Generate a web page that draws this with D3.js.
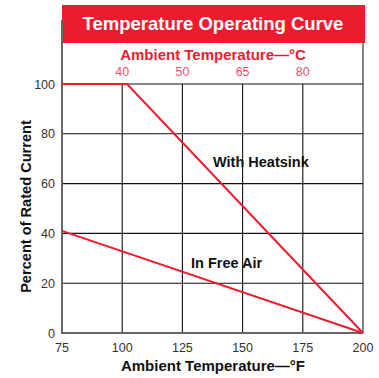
<!DOCTYPE html>
<html><head><meta charset="utf-8">
<script src="https://cdn.jsdelivr.net/npm/d3@7"></script>
<style>body{margin:0;background:#fff}text{font-family:"Liberation Sans",Arial,sans-serif}</style>
</head><body><svg id="c" width="379" height="378"></svg>
<script>
const xTicksF = [75, 100, 125, 150, 175, 200];
const xTicksC = [{f:100, c:"40"}, {f:125, c:"50"}, {f:150, c:"65"}, {f:175, c:"80"}];
const yTicks = [0, 20, 40, 60, 80, 100];
const heatsinkF = [75, 102, 200];
const heatsinkPct = [100, 100, 0];
const freeAirF = [75, 200];
const freeAirPct = [41, 0];

const svg = d3.select("#c");
const L = 62, R = 363, T = 84, B = 333;
const x = d3.scaleLinear().domain([75, 200]).range([L, R]);
const y = d3.scaleLinear().domain([0, 100]).range([B, T]);
const red = "#ec1c2e";

// title box
svg.append("rect").attr("x", 62).attr("y", 5).attr("width", 303).attr("height", 38).attr("fill", red);
svg.append("text").attr("x", 213).attr("y", 30).attr("text-anchor", "middle")
  .attr("fill", "#fff").attr("font-weight", "bold").attr("font-size", 18.5).text("Temperature Operating Curve");

// gridlines
svg.append("g").selectAll("line").data(xTicksF.slice(1, -1)).join("line")
  .attr("x1", d => x(d)).attr("x2", d => x(d)).attr("y1", T).attr("y2", B)
  .attr("stroke", "#111").attr("stroke-width", 1.1);
svg.append("g").selectAll("line").data(yTicks.slice(1)).join("line")
  .attr("x1", L).attr("x2", R).attr("y1", d => y(d)).attr("y2", d => y(d))
  .attr("stroke", "#111").attr("stroke-width", 1.1);
// right border
svg.append("line").attr("x1", R).attr("x2", R).attr("y1", 43).attr("y2", B).attr("stroke", "#333").attr("stroke-width", 1.2);
// left axis & bottom axis
svg.append("line").attr("x1", L).attr("x2", L).attr("y1", 20).attr("y2", B + 1).attr("stroke", "#666").attr("stroke-width", 2);
svg.append("line").attr("x1", L - 1).attr("x2", R).attr("y1", B).attr("y2", B).attr("stroke", "#666").attr("stroke-width", 2);

// tick labels
svg.append("g").selectAll("text").data(yTicks).join("text")
  .attr("x", 55).attr("y", d => y(d) + 4.5).attr("text-anchor", "end")
  .attr("font-size", 12.5).attr("fill", "#333").text(d => d);
svg.append("g").selectAll("text").data(xTicksF).join("text")
  .attr("x", d => x(d)).attr("y", 352).attr("text-anchor", "middle")
  .attr("font-size", 12.5).attr("fill", "#333").text(d => d);
svg.append("g").selectAll("text").data(xTicksC).join("text")
  .attr("x", d => x(d.f)).attr("y", 76).attr("text-anchor", "middle")
  .attr("font-size", 12.5).attr("fill", "#f0506a").text(d => d.c);

// axis titles
svg.append("text").attr("x", 213).attr("y", 60).attr("text-anchor", "middle")
  .attr("font-weight", "bold").attr("font-size", 15).attr("fill", red).text("Ambient Temperature—°C");
svg.append("text").attr("x", 213).attr("y", 371).attr("text-anchor", "middle")
  .attr("font-weight", "bold").attr("font-size", 15).attr("fill", "#111").text("Ambient Temperature—°F");
svg.append("text").attr("transform", "translate(31,206.5) rotate(-90)").attr("text-anchor", "middle")
  .attr("font-weight", "bold").attr("font-size", 14.6).attr("fill", "#111").text("Percent of Rated Current");

// lines
const line = d3.line().x(d => x(d[0])).y(d => y(d[1]));
svg.append("path").datum(heatsinkF.map((f, i) => [f, heatsinkPct[i]])).attr("d", line)
  .attr("fill", "none").attr("stroke", red).attr("stroke-width", 2);
svg.append("path").datum(freeAirF.map((f, i) => [f, freeAirPct[i]])).attr("d", line)
  .attr("fill", "none").attr("stroke", red).attr("stroke-width", 2);

// labels
svg.append("text").attr("x", 213).attr("y", 167).attr("font-weight", "bold").attr("font-size", 14.5).attr("fill", "#111").text("With Heatsink");
svg.append("text").attr("x", 191).attr("y", 268).attr("font-weight", "bold").attr("font-size", 14.5).attr("fill", "#111").text("In Free Air");
</script></body></html>
